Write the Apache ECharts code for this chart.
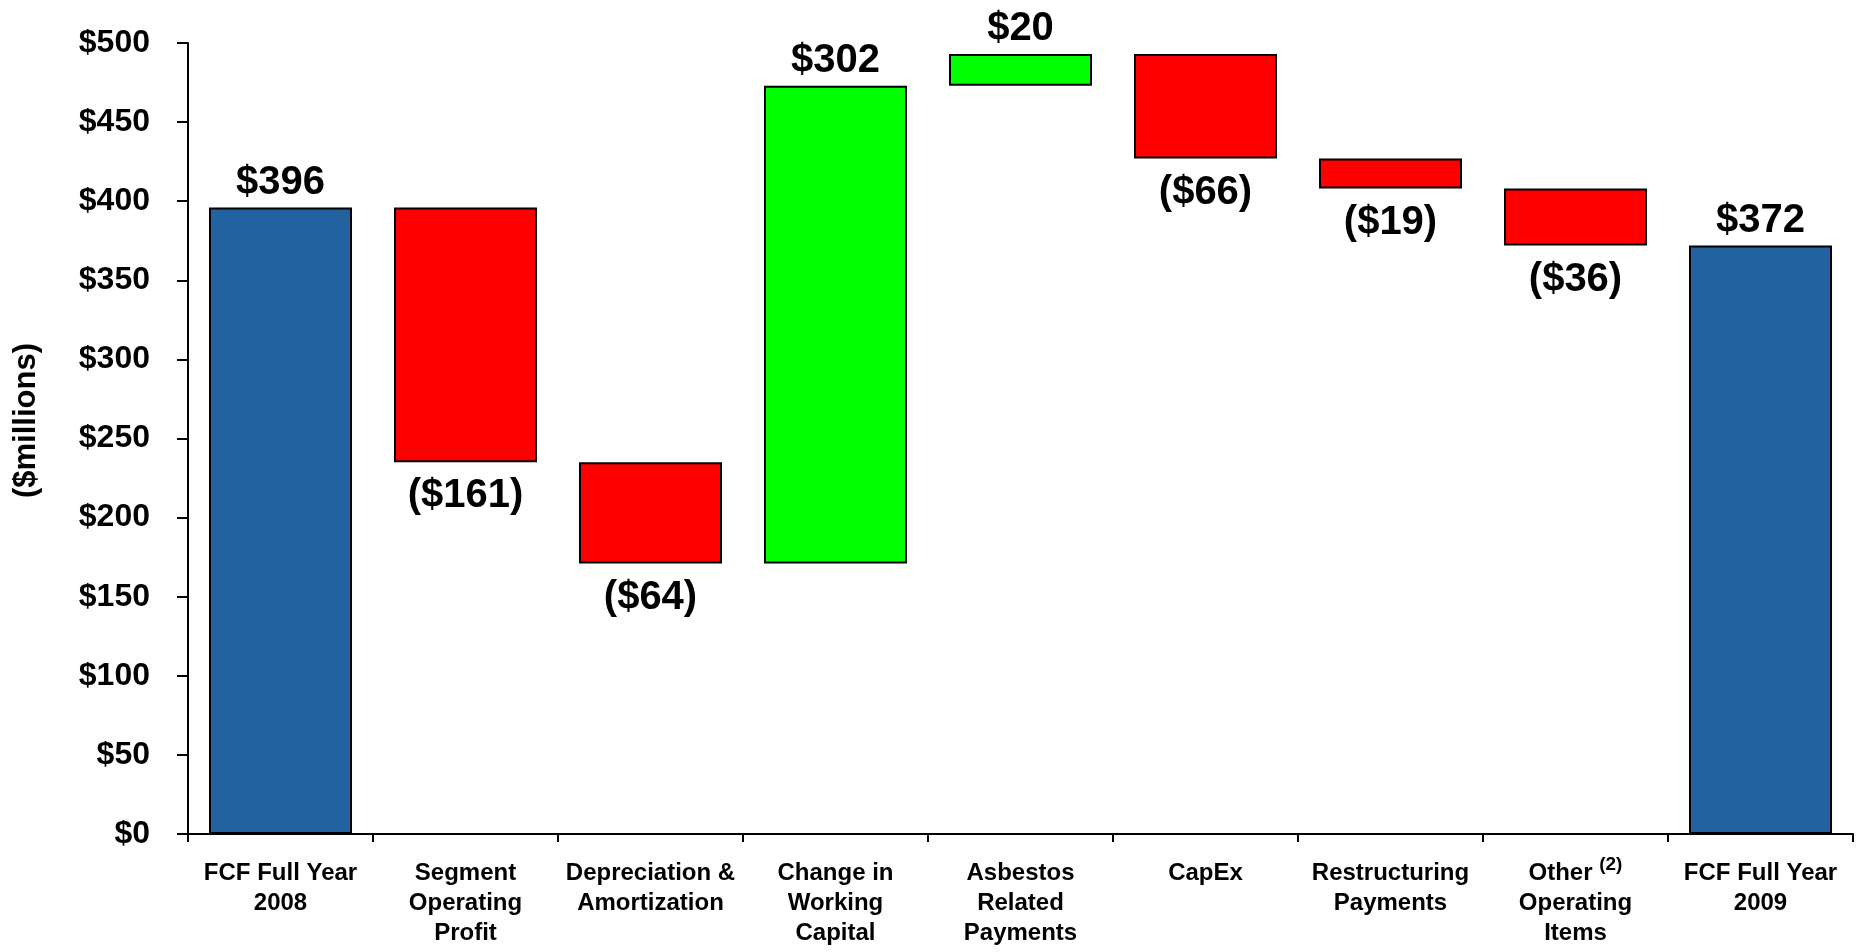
<!DOCTYPE html>
<html>
<head>
<meta charset="utf-8">
<title>Free Cash Flow Bridge 2008 to 2009</title>
<script src="https://cdn.jsdelivr.net/npm/echarts@6/dist/echarts.min.js"></script>
<style>
  html, body { margin: 0; padding: 0; background: #ffffff; }
  #chart { width: 1860px; height: 952px; }
</style>
</head>
<body>
<div id="chart"></div>
<script>
// Bridge steps from FCF 2008 to FCF 2009 ($ millions)
const categories = [
  'FCF Full Year\n2008',
  'Segment\nOperating\nProfit',
  'Depreciation &\nAmortization',
  'Change in\nWorking\nCapital',
  'Asbestos\nRelated\nPayments',
  'CapEx',
  'Restructuring\nPayments',
  'Other {sup|(2)}\nOperating\nItems',
  'FCF Full Year\n2009'
];
const amounts = [396, -161, -64, 302, 20, -66, -19, -36, 372];
const kinds = ['total', 'step', 'step', 'step', 'step', 'step', 'step', 'step', 'total'];
const yTicks = [0, 50, 100, 150, 200, 250, 300, 350, 400, 450, 500];

const BLUE = '#2262A0';
const RED = '#FF0000';
const GREEN = '#00FF00';
const FONT = '"Liberation Sans", Arial, Helvetica, sans-serif';

// Build floating-bar bases and heights from the running total
const bases = [];
const heights = [];
const colors = [];
let running = 0;
amounts.forEach((v, i) => {
  if (kinds[i] === 'total') {
    bases.push(0);
    heights.push(v);
    colors.push(BLUE);
    running = v;
  } else if (v >= 0) {
    bases.push(running);
    heights.push(v);
    colors.push(GREEN);
    running += v;
  } else {
    bases.push(running + v);
    heights.push(-v);
    colors.push(RED);
    running += v;
  }
});

function money(v) {
  return v < 0 ? '($' + (-v) + ')' : '$' + v;
}

const chart = echarts.init(document.getElementById('chart'));
chart.setOption({
  backgroundColor: '#ffffff',
  animation: false,
  grid: { left: 188, right: 7, top: 43, bottom: 118, containLabel: false },
  graphic: [{
    type: 'text',
    left: 11,
    top: 343,
    rotation: Math.PI / 2,
    style: {
      text: '($millions)',
      font: 'bold 31px ' + FONT,
      fill: '#000000'
    }
  }],
  xAxis: {
    type: 'category',
    data: categories,
    axisLine: { lineStyle: { color: '#000000', width: 2 } },
    axisTick: { show: true, length: 8, lineStyle: { color: '#000000', width: 2 } },
    axisLabel: {
      interval: 0,
      margin: 24,
      color: '#000000',
      fontFamily: FONT,
      fontWeight: 'bold',
      fontSize: 24,
      lineHeight: 30,
      rich: {
        sup: { fontSize: 19, fontWeight: 'bold', fontFamily: FONT, color: '#000000', lineHeight: 30, padding: [0, 0, 16, 0] }
      }
    }
  },
  yAxis: {
    type: 'value',
    min: yTicks[0],
    max: yTicks[yTicks.length - 1],
    interval: yTicks[1] - yTicks[0],
    splitLine: { show: false },
    axisLine: { show: true, lineStyle: { color: '#000000', width: 2 } },
    axisTick: { show: true, length: 11, lineStyle: { color: '#000000', width: 2 } },
    axisLabel: {
      margin: 38,
      color: '#000000',
      fontFamily: FONT,
      fontWeight: 'bold',
      fontSize: 32,
      formatter: v => '$' + v
    }
  },
  series: [
    {
      type: 'bar',
      stack: 'bridge',
      data: bases,
      barCategoryGap: '22.7%',
      itemStyle: { color: 'transparent', borderWidth: 0 },
      emphasis: { disabled: true },
      silent: true
    },
    {
      type: 'bar',
      stack: 'bridge',
      barCategoryGap: '22.7%',
      data: heights.map((h, i) => ({
        value: h,
        itemStyle: { color: colors[i] },
        label: {
          position: amounts[i] < 0 ? 'bottom' : 'top',
          distance: amounts[i] < 0 ? 14 : 5
        }
      })),
      itemStyle: { borderColor: '#000000', borderWidth: 2 },
      label: {
        show: true,
        color: '#000000',
        fontFamily: FONT,
        fontWeight: 'bold',
        fontSize: 40,
        formatter: p => money(amounts[p.dataIndex])
      }
    }
  ]
});
</script>
</body>
</html>
